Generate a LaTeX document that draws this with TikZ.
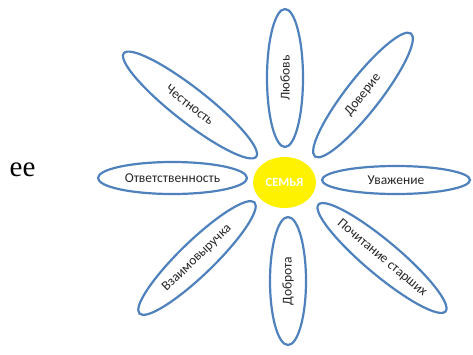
\documentclass[tikz,border=0pt]{standalone}
\usepackage{fontspec}
\setmainfont{Carlito}
\newfontfamily\eefont{Liberation Serif}
\usetikzlibrary{shapes.geometric}
\definecolor{petalblue}{HTML}{4F81BD}
\tikzset{
  petal/.style={draw=petalblue, line width=2.2pt, ellipse, inner sep=0pt,
    font=\fontsize{13.5}{15}\selectfont, text=black!85},
}
\begin{document}
\begin{tikzpicture}[x=1pt,y=-1pt]
\useasboundingbox (0,0) rectangle (473,354);
\node[font=\eefont\fontsize{29}{32}\selectfont] (ee) at (22.5,170) {ee};
\node[ellipse, fill=yellow, minimum width=63pt, minimum height=51pt, inner sep=0pt,
  text=white, font=\bfseries\fontsize{12.5}{14}\selectfont] (center) at (284.5,182.5) {СЕМЬЯ};
\node[petal, minimum width=138pt, minimum height=36pt, rotate=90] (lub) at (285,78) {Любовь};
\node[petal, minimum width=156pt, minimum height=34pt, rotate=52] (dov) at (363,95) {Доверие};
\node[petal, minimum width=148pt, minimum height=28pt] (uv) at (396,180) {Уважение};
\node[petal, minimum width=166pt, minimum height=34pt, rotate=-40] (poch) at (382,258) {Почитание старших};
\node[petal, minimum width=128pt, minimum height=36pt, rotate=90] (dob) at (288,281) {Доброта};
\node[petal, minimum width=160pt, minimum height=34pt, rotate=44] (vz) at (197,258) {Взаимовыручка};
\node[petal, minimum width=149pt, minimum height=32pt] (otv) at (172.5,178) {Ответственность};
\node[petal, minimum width=168pt, minimum height=34pt, rotate=-38] (chest) at (190,105) {Честность};
\end{tikzpicture}
\end{document}
